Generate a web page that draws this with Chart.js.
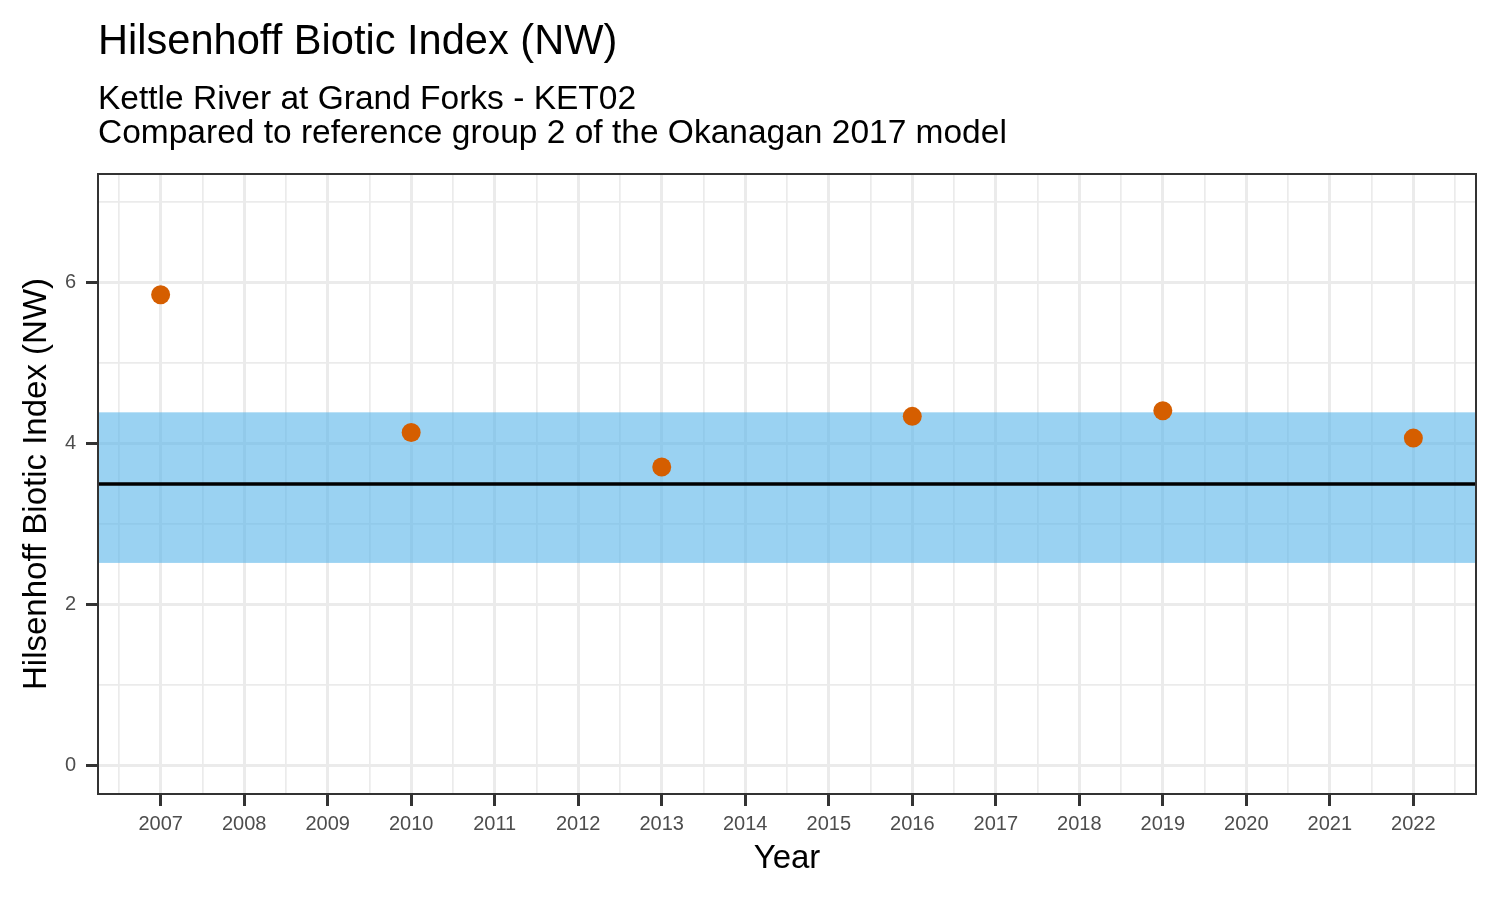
<!DOCTYPE html>
<html>
<head>
<meta charset="utf-8">
<script src="https://cdn.jsdelivr.net/npm/chart.js@4.4.1/dist/chart.umd.min.js"></script>
<style>
  html, body { margin: 0; padding: 0; background: #ffffff; }
  #wrap { width: 1500px; height: 900px; }
</style>
</head>
<body>
<div id="wrap"><canvas id="c" width="1500" height="900"></canvas></div>
<script>
// ---- Data ----
const years = [2007, 2010, 2013, 2016, 2019, 2022];
const hbiValues = [5.85, 4.14, 3.71, 4.34, 4.41, 4.07];
const refMean = 3.50;
const refLow = 2.52;
const refHigh = 4.39;
const xTickYears = [2007, 2008, 2009, 2010, 2011, 2012, 2013, 2014, 2015, 2016, 2017, 2018, 2019, 2020, 2021, 2022];
const yTickValues = [0, 2, 4, 6];
const titleText = "Hilsenhoff Biotic Index (NW)";
const subtitleLines = ["Kettle River at Grand Forks - KET02", "Compared to reference group 2 of the Okanagan 2017 model"];
const xAxisTitle = "Year";
const yAxisTitle = "Hilsenhoff Biotic Index (NW)";

const FONT = '"Liberation Sans", Arial, Helvetica, sans-serif';

// x range with 5% expansion like ggplot
const xMin = xTickYears[0] - 0.05 * (xTickYears[xTickYears.length - 1] - xTickYears[0]);
const xMax = xTickYears[xTickYears.length - 1] + 0.05 * (xTickYears[xTickYears.length - 1] - xTickYears[0]);
const yLo = 0, yHi = 7;
const yMin = yLo - 0.05 * (yHi - yLo);
const yMax = yHi + 0.05 * (yHi - yLo);

// gridline positions (major + minor)
const xGrid = [];
for (let i = 0; i < xTickYears.length; i++) {
  xGrid.push(xTickYears[i] - 0.5);
  xGrid.push(xTickYears[i]);
}
xGrid.push(xTickYears[xTickYears.length - 1] + 0.5);
const yGrid = [0, 1, 2, 3, 4, 5, 6, 7];

const points = years.map((y, i) => ({ x: y, y: hbiValues[i] }));

const bandPlugin = {
  id: 'refBand',
  beforeDatasetsDraw(chart) {
    const { ctx, chartArea, scales } = chart;
    const yS = scales.y;
    ctx.save();
    ctx.beginPath();
    ctx.rect(chartArea.left, chartArea.top, chartArea.right - chartArea.left, chartArea.bottom - chartArea.top);
    ctx.clip();
    const yTop = yS.getPixelForValue(refHigh);
    const yBot = yS.getPixelForValue(refLow);
    ctx.fillStyle = 'rgba(86,180,233,0.6)';
    ctx.fillRect(chartArea.left, yTop, chartArea.right - chartArea.left, yBot - yTop);
    const yM = yS.getPixelForValue(refMean);
    ctx.strokeStyle = '#000000';
    ctx.lineWidth = 3.6;
    ctx.beginPath();
    ctx.moveTo(chartArea.left, yM);
    ctx.lineTo(chartArea.right, yM);
    ctx.stroke();
    ctx.restore();
  },
  afterDraw(chart) {
    const { ctx, chartArea } = chart;
    ctx.save();
    ctx.strokeStyle = '#333333';
    ctx.lineWidth = 2;
    ctx.strokeRect(chartArea.left, chartArea.top, chartArea.right - chartArea.left, chartArea.bottom - chartArea.top);
    // titles
    ctx.fillStyle = '#000000';
    ctx.textAlign = 'left';
    ctx.textBaseline = 'alphabetic';
    ctx.font = '41.6px ' + FONT;
    ctx.fillText(titleText, 98, 54);
    ctx.font = '33.5px ' + FONT;
    ctx.fillText(subtitleLines[0], 98, 109);
    ctx.fillText(subtitleLines[1], 98, 143);
    ctx.restore();
  }
};

new Chart(document.getElementById('c'), {
  type: 'scatter',
  data: {
    datasets: [{
      data: points,
      backgroundColor: '#D55E00',
      borderWidth: 0,
      pointRadius: 9.5,
      pointHoverRadius: 9.5
    }]
  },
  options: {
    responsive: false,
    animation: false,
    devicePixelRatio: 1,
    layout: { padding: { top: 174, right: 24, left: 0, bottom: 0 } },
    plugins: {
      legend: { display: false },
      tooltip: { enabled: false },
      title: { display: false }
    },
    scales: {
      x: {
        type: 'linear',
        min: xMin,
        max: xMax,
        afterBuildTicks: (s) => { s.ticks = xGrid.map(v => ({ value: v })); },
        afterFit: (s) => { s.height = 106; },
        border: { display: false },
        grid: {
          color: '#EBEBEB',
          lineWidth: (c) => Number.isInteger(c.tick.value) ? 3 : 1.7,
          drawTicks: true,
          tickLength: 12,
          tickWidth: 3,
          tickColor: (c) => Number.isInteger(c.tick.value) ? '#333333' : 'rgba(0,0,0,0)'
        },
        ticks: {
          autoSkip: false,
          maxRotation: 0,
          padding: 6,
          color: '#4D4D4D',
          font: { family: FONT, size: 20 },
          callback: (v) => xTickYears.includes(v) ? String(v) : ''
        },
        title: {
          display: true,
          text: xAxisTitle,
          color: '#000000',
          font: { family: FONT, size: 33 },
          padding: { top: 0, bottom: 21 }
        }
      },
      y: {
        type: 'linear',
        min: yMin,
        max: yMax,
        afterBuildTicks: (s) => { s.ticks = yGrid.map(v => ({ value: v })); },
        afterFit: (s) => { s.width = 98; },
        border: { display: false },
        grid: {
          color: '#EBEBEB',
          lineWidth: (c) => yTickValues.includes(c.tick.value) ? 3 : 1.7,
          drawTicks: true,
          tickLength: 12,
          tickWidth: 3,
          tickColor: (c) => yTickValues.includes(c.tick.value) ? '#333333' : 'rgba(0,0,0,0)'
        },
        ticks: {
          autoSkip: false,
          padding: 10,
          color: '#4D4D4D',
          font: { family: FONT, size: 20 },
          callback: (v) => yTickValues.includes(v) ? String(v) : ''
        },
        title: {
          display: true,
          text: yAxisTitle,
          color: '#000000',
          font: { family: FONT, size: 33 },
          padding: { top: 17, bottom: 0 }
        }
      }
    }
  },
  plugins: [bandPlugin]
});
</script>
</body>
</html>
